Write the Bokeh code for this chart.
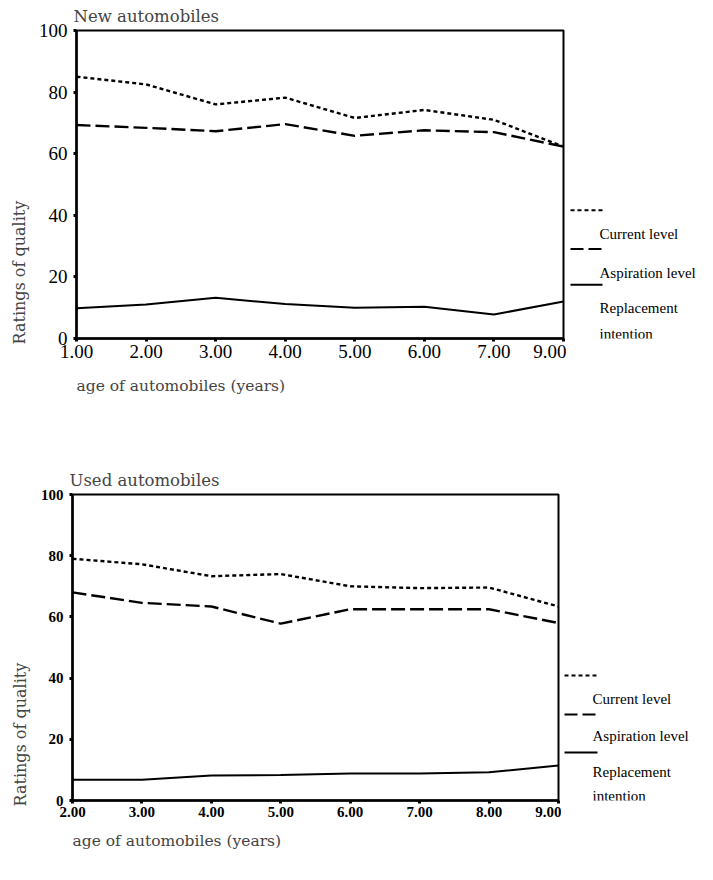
from bokeh.plotting import figure
from bokeh.models import Range1d, FixedTicker, Title
from bokeh.layouts import column, row
from bokeh.embed import file_html
from bokeh.resources import INLINE
from bokeh.core.properties import value

# ---------------- data ----------------
new_ages = ["1.00", "2.00", "3.00", "4.00", "5.00", "6.00", "7.00", "9.00"]
new_dotted = [85, 82.5, 76, 78.2, 71.6, 74.2, 71, 62.3]
new_dashed = [69.3, 68.4, 67.3, 69.6, 65.8, 67.6, 67, 62.3]
new_solid = [9.8, 11, 13.2, 11.2, 10, 10.3, 7.8, 12]

used_ages = ["2.00", "3.00", "4.00", "5.00", "6.00", "7.00", "8.00", "9.00"]
used_dotted = [79, 77.2, 73.3, 74, 70, 69.4, 69.6, 63.4]
used_dashed = [68, 64.6, 63.4, 57.8, 62.5, 62.5, 62.5, 58]
used_solid = [6.8, 6.8, 8.2, 8.3, 8.8, 8.8, 9.2, 11.4]

y_ticks = [0, 20, 40, 60, 80, 100]
legend_labels = ["Current level", "Aspiration level", "Replacement", "intention"]
legend_dashes = ["4 3", "13 5", "solid"]
titles = ["New automobiles", "Used automobiles"]
x_title = "age of automobiles (years)"
y_title = "Ratings of quality"

SERIF = "DejaVu Serif"
TIMES = "Liberation Serif"
W = 697


def build(height, frame, ages, dotted, dashed, solid, tick_size, tick_style,
          title, title_standoff, ylab_standoff, xlab_standoff, leg):
    L, T, FW, FH = frame
    n = len(ages) - 1
    main_w = L + FW + 3
    p = figure(width=main_w, height=height, x_range=Range1d(0, n), y_range=Range1d(0, 100),
               output_backend="svg", toolbar_location=None,
               min_border_left=L, min_border_top=T,
               min_border_right=3, min_border_bottom=height - T - FH)
    p.grid.visible = False
    p.outline_line_color = "black"
    p.outline_line_width = 2
    p.outline_line_alpha = 1
    p.background_fill_color = "white"
    p.border_fill_color = "white"

    p.title.text = title
    p.title.align = "left"
    p.title.text_font = SERIF
    p.title.text_font_size = "16.5px"
    p.title.text_font_style = "normal"
    p.title.standoff = title_standoff
    p.title.offset = -3

    xs = list(range(len(ages)))
    p.xaxis.ticker = FixedTicker(ticks=xs)
    p.xaxis.major_label_overrides = {i: a for i, a in zip(xs, ages)}
    p.yaxis.ticker = FixedTicker(ticks=y_ticks)
    for ax in (p.xaxis, p.yaxis):
        ax.axis_line_width = 2.5
        ax.axis_line_color = "black"
        ax.major_tick_line_width = 3
        ax.major_tick_out = 3
        ax.major_tick_in = 0
        ax.minor_tick_out = 0
        ax.minor_tick_in = 0
        ax.major_label_text_font = TIMES
        ax.major_label_text_font_size = tick_size
        ax.major_label_text_font_style = tick_style
        ax.major_label_text_color = "black"
    p.xaxis.major_label_standoff = 3
    p.yaxis.major_label_standoff = 6

    p.add_layout(Title(text=x_title, align="left", text_font=SERIF,
                       text_font_size="15.5px", text_font_style="normal",
                       standoff=xlab_standoff), "below")
    p.add_layout(Title(text=y_title, align="left", text_font=SERIF,
                       text_font_size="16px", text_font_style="normal",
                       standoff=ylab_standoff, offset=-6), "left")

    p.line(xs, dotted, line_color="black", line_width=2.4, line_dash="4 3")
    p.line(xs, dashed, line_color="black", line_width=2.4, line_dash="14 5")
    p.line(xs, solid, line_color="black", line_width=2)

    # legend panel: its frame is aligned with the chart frame by the row layout,
    # so map data y to canvas pixels measured from the top of the canvas.
    lw = W - main_w
    q = figure(width=lw, height=height, x_range=Range1d(0, lw), y_range=Range1d(T + FH, T),
               output_backend="svg", toolbar_location=None,
               x_axis_location=None, y_axis_location=None,
               min_border_left=0, min_border_right=0,
               min_border_top=T, min_border_bottom=height - T - FH)
    q.grid.visible = False
    q.outline_line_color = None
    q.background_fill_color = "white"
    q.border_fill_color = "white"
    lx0, lx1, tx, ys = leg
    lx0 -= main_w
    lx1 -= main_w
    tx -= main_w
    seg_ys = [ys[0], ys[2], ys[4]]
    for yy, dash in zip(seg_ys, legend_dashes):
        q.line([lx0, lx1], [yy, yy], line_color="black", line_width=2, line_dash=dash)
    text_ys = [ys[1], ys[3], ys[5], ys[6]]
    q.text(x=[tx] * 4, y=text_ys, text=legend_labels, text_font=value(TIMES),
           text_font_size="15px", text_baseline="middle", text_align="left",
           text_color="black")
    return row(p, q, spacing=0)


r1 = build(440, (73, 28, 490, 310), new_ages, new_dotted, new_dashed, new_solid,
           "19px", "normal", titles[0], 9, 14, 28,
           (570, 602, 599, [209, 233, 248, 272, 284, 307, 333]))
r2 = build(424, (69, 54, 489, 306), used_ages, used_dotted, used_dashed, used_solid,
           "15px", "bold", titles[1], 10, 16, 20,
           (564, 597, 592, [235, 258, 274, 295, 312, 331, 355]))

layout = column(r1, r2, spacing=0)
open("out.html", "w").write(file_html(layout, INLINE))
